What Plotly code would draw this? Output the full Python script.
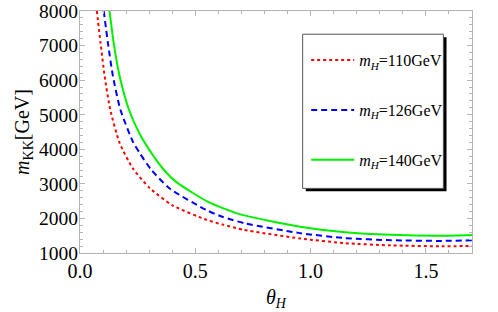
import plotly.graph_objects as go

# ---- data ----
theta_110 = [0.073, 0.089, 0.107, 0.131, 0.172, 0.230, 0.302, 0.403, 0.549, 0.62, 0.71, 0.954, 1.15, 1.35, 1.57, 1.70]
mkk_110   = [8000, 7080, 6110, 5150, 4180, 3440, 2880, 2370, 1960, 1820, 1670, 1420, 1285, 1220, 1195, 1205]

theta_126 = [0.103, 0.121, 0.143, 0.175, 0.230, 0.259, 0.310, 0.390, 0.549, 0.62, 0.72, 0.954, 1.15, 1.35, 1.57, 1.70]
mkk_126   = [8000, 7080, 6110, 5150, 4210, 3890, 3400, 2860, 2240, 2040, 1850, 1575, 1430, 1370, 1350, 1370]

theta_140 = [0.128, 0.146, 0.172, 0.212, 0.259, 0.302, 0.367, 0.418, 0.549, 0.60, 0.70, 0.954, 1.15, 1.35, 1.57, 1.70]
mkk_140   = [8000, 7080, 6110, 5150, 4440, 3970, 3380, 3050, 2500, 2350, 2110, 1760, 1600, 1525, 1500, 1520]

labels = ["<i>m<sub>H</sub></i>=110GeV", "<i>m<sub>H</sub></i>=126GeV", "<i>m<sub>H</sub></i>=140GeV"]
colors = ["#ff0000", "#0000ff", "#00f000"]
dashes = ["dot", "6px,4px", "solid"]

x_ticks = [0.0, 0.5, 1.0, 1.5]
y_ticks = [1000, 2000, 3000, 4000, 5000, 6000, 7000, 8000]

FONT = "Liberation Serif"
fig = go.Figure()
for i, (tx, ty) in enumerate([(theta_110, mkk_110), (theta_126, mkk_126), (theta_140, mkk_140)]):
    fig.add_trace(go.Scatter(
        x=tx, y=ty, mode="lines", name=labels[i], legendgroup=f"g{i}",
        line=dict(color=colors[i], dash=dashes[i], width=2, shape="spline", smoothing=0.6),
    ))

axis_common = dict(
    showline=True, linecolor="#b4b4b4", linewidth=1, mirror="allticks",
    ticks="inside", ticklen=5, tickcolor="#b4b4b4", tickwidth=1,
    showgrid=False, zeroline=False, automargin=False,
)

fig.update_layout(
    width=498, height=312,
    margin=dict(l=80, r=26, t=11, b=59),
    plot_bgcolor="white", paper_bgcolor="white",
    xaxis=dict(range=[0, 1.7], tickvals=x_ticks, ticktext=[f"{v:.1f}" for v in x_ticks],
               tickfont=dict(family=FONT, size=20, color="black"),
               minor=dict(dtick=0.1, ticks="inside", ticklen=3, tickcolor="#b4b4b4", showgrid=False),
               title=dict(text="<i>θ<sub>H</sub></i>", font=dict(family=FONT, size=20, color="black"), standoff=8),
               **axis_common),
    yaxis=dict(range=[1000, 8000], tickvals=y_ticks,
               tickfont=dict(family=FONT, size=19.5, color="black"), ticklabelstandoff=-3,
               minor=dict(dtick=200, ticks="inside", ticklen=3, tickcolor="#b4b4b4", showgrid=False),
               title=dict(text="<i>m</i><sub>KK</sub>[GeV]", font=dict(family=FONT, size=20, color="black"), standoff=4),
               **axis_common),
    showlegend=True,
    legend=dict(x=0.577, y=0.867, xanchor="left", yanchor="top",
                bgcolor="rgba(0,0,0,0)", borderwidth=0,
                font=dict(family=FONT, size=16, color="black"),
                tracegroupgap=26, itemwidth=43),
    shapes=[
        dict(type="rect", xref="paper", yref="paper", x0=0.576, x1=0.935, y0=0.255, y1=0.892,
             fillcolor="black", line=dict(width=0), layer="above"),
        dict(type="rect", xref="paper", yref="paper", x0=0.568, x1=0.927, y0=0.267, y1=0.904,
             fillcolor="white", line=dict(color="#555555", width=1), layer="above"),
    ],
)
# remove the page's default body margin so the figure sits at the window's corner
fig.write_html("out.html", config={"displayModeBar": False},
               post_script="document.body.style.margin='0';")
